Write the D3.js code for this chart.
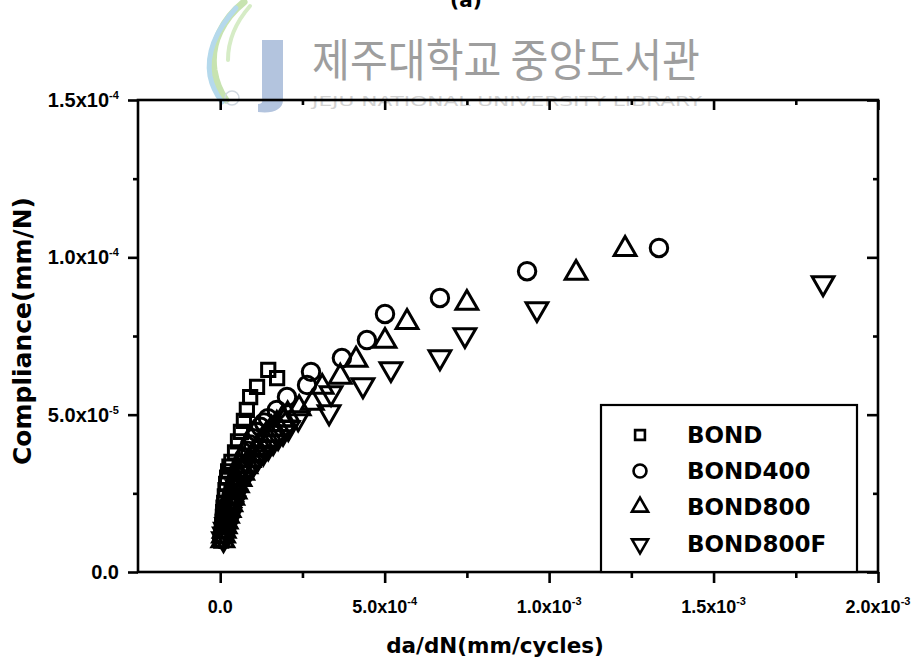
<!DOCTYPE html>
<html>
<head>
<meta charset="utf-8">
<script src="https://cdn.jsdelivr.net/npm/d3@7"></script>
<style>
  html, body { margin: 0; padding: 0; background: #fff; }
  svg { display: block; }
</style>
</head>
<body>
<svg id="chart" width="922" height="662"></svg>
<script>
// ---- data: crack growth rate (mm/cycle) vs compliance (mm/N) ----
const seriesNames = ["BOND", "BOND400", "BOND800", "BOND800F"];

const bondX = [0.003e-3, 0.004e-3, 0.005e-3, 0.006e-3, 0.007e-3, 0.008e-3, 0.009e-3, 0.010e-3, 0.012e-3, 0.014e-3,
               0.016e-3, 0.018e-3, 0.021e-3, 0.024e-3, 0.028e-3, 0.034e-3, 0.045e-3, 0.054e-3, 0.063e-3, 0.072e-3,
               0.081e-3, 0.091e-3, 0.112e-3, 0.146e-3, 0.173e-3];
const bondY = [1.00e-5, 1.15e-5, 1.30e-5, 1.45e-5, 1.60e-5, 1.75e-5, 1.90e-5, 2.05e-5, 2.20e-5, 2.40e-5,
               2.60e-5, 2.80e-5, 3.00e-5, 3.20e-5, 3.35e-5, 3.50e-5, 3.80e-5, 4.15e-5, 4.45e-5, 4.80e-5,
               5.15e-5, 5.56e-5, 5.88e-5, 6.42e-5, 6.16e-5];

const bond400X = [0.006e-3, 0.008e-3, 0.010e-3, 0.012e-3, 0.015e-3, 0.018e-3, 0.021e-3, 0.025e-3, 0.030e-3, 0.035e-3,
                  0.040e-3, 0.046e-3, 0.052e-3, 0.058e-3, 0.065e-3, 0.073e-3, 0.082e-3, 0.091e-3, 0.100e-3, 0.111e-3,
                  0.122e-3, 0.133e-3, 0.145e-3, 0.172e-3, 0.203e-3, 0.264e-3, 0.276e-3, 0.370e-3, 0.446e-3, 0.501e-3,
                  0.668e-3, 0.933e-3, 1.334e-3];
const bond400Y = [1.05e-5, 1.20e-5, 1.35e-5, 1.50e-5, 1.65e-5, 1.80e-5, 1.95e-5, 2.10e-5, 2.28e-5, 2.46e-5,
                  2.65e-5, 2.85e-5, 3.05e-5, 3.25e-5, 3.45e-5, 3.65e-5, 3.85e-5, 4.05e-5, 4.25e-5, 4.45e-5,
                  4.62e-5, 4.75e-5, 4.89e-5, 5.15e-5, 5.56e-5, 5.94e-5, 6.36e-5, 6.80e-5, 7.37e-5, 8.20e-5,
                  8.71e-5, 9.56e-5, 10.30e-5];

const bond800X = [0.008e-3, 0.010e-3, 0.012e-3, 0.015e-3, 0.018e-3, 0.022e-3, 0.027e-3, 0.032e-3, 0.038e-3, 0.045e-3,
                  0.052e-3, 0.060e-3, 0.068e-3, 0.078e-3, 0.088e-3, 0.100e-3, 0.112e-3, 0.126e-3, 0.140e-3, 0.156e-3,
                  0.172e-3, 0.188e-3, 0.205e-3, 0.240e-3, 0.280e-3, 0.310e-3, 0.365e-3, 0.413e-3, 0.501e-3, 0.568e-3,
                  0.750e-3, 1.082e-3, 1.231e-3];
const bond800Y = [1.00e-5, 1.15e-5, 1.30e-5, 1.45e-5, 1.60e-5, 1.78e-5, 1.96e-5, 2.15e-5, 2.35e-5, 2.55e-5,
                  2.75e-5, 2.95e-5, 3.15e-5, 3.35e-5, 3.55e-5, 3.75e-5, 3.95e-5, 4.15e-5, 4.35e-5, 4.55e-5,
                  4.70e-5, 4.85e-5, 5.00e-5, 5.20e-5, 5.37e-5, 5.88e-5, 6.20e-5, 6.74e-5, 7.34e-5, 7.94e-5,
                  8.55e-5, 9.50e-5, 10.26e-5];

const bond800fX = [0.010e-3, 0.013e-3, 0.016e-3, 0.020e-3, 0.024e-3, 0.029e-3, 0.035e-3, 0.041e-3, 0.046e-3, 0.052e-3,
                   0.061e-3, 0.070e-3, 0.080e-3, 0.091e-3, 0.103e-3, 0.116e-3, 0.131e-3, 0.146e-3, 0.161e-3, 0.176e-3,
                   0.191e-3, 0.207e-3, 0.237e-3, 0.331e-3, 0.337e-3, 0.434e-3, 0.519e-3, 0.668e-3, 0.744e-3, 0.963e-3,
                   1.833e-3];
const bond800fY = [1.05e-5, 1.20e-5, 1.35e-5, 1.50e-5, 1.66e-5, 1.82e-5, 2.00e-5, 2.18e-5, 2.40e-5, 2.70e-5,
                   2.85e-5, 2.99e-5, 3.15e-5, 3.30e-5, 3.48e-5, 3.65e-5, 3.80e-5, 3.97e-5, 4.13e-5, 4.29e-5,
                   4.43e-5, 4.58e-5, 4.89e-5, 5.08e-5, 5.69e-5, 5.94e-5, 6.45e-5, 6.83e-5, 7.53e-5, 8.36e-5,
                   9.18e-5];

// axis ticks and their labels (mantissa + power of ten)
const xTickValues = [0, 5e-4, 1e-3, 1.5e-3, 2e-3];
const xTickMantissa = ["0.0", "5.0x10", "1.0x10", "1.5x10", "2.0x10"];
const xTickExponent = ["", "-4", "-3", "-3", "-3"];
const xMinorValues = [2.5e-4, 7.5e-4, 1.25e-3, 1.75e-3];

const yTickValues = [0, 5e-5, 1e-4, 1.5e-4];
const yTickMantissa = ["0.0", "5.0x10", "1.0x10", "1.5x10"];
const yTickExponent = ["", "-5", "-4", "-4"];
const yMinorValues = [2.5e-5, 7.5e-5, 1.25e-4];

const xTitle = "da/dN(mm/cycles)";
const yTitle = "Compliance(mm/N)";

// ---- layout ----
const svg = d3.select("#chart");
const plot = { left: 138, right: 878, top: 100, bottom: 572 };

const x = d3.scaleLinear().domain([-2.5e-4, 2e-3]).range([plot.left, plot.right]);
const y = d3.scaleLinear().domain([0, 1.5e-4]).range([plot.bottom, plot.top]);

const tickFont = "'Liberation Sans', Arial, sans-serif";
const titleFont = "'DejaVu Sans', sans-serif";

// ---- library watermark behind the chart ----
const wm = svg.append("g").attr("class", "watermark");
wm.append("path")
  .attr("d", "M244,2 C224,18 210,42 214,70 C216,82 220,92 226,100")
  .attr("fill", "none").attr("stroke", "#c7e3b0").attr("stroke-width", 7).attr("stroke-linecap", "round");
wm.append("path")
  .attr("d", "M236,8 C218,28 206,52 210,76 C212,86 216,94 222,102")
  .attr("fill", "none").attr("stroke", "#b5d9ec").attr("stroke-width", 5).attr("stroke-linecap", "round");
wm.append("path")
  .attr("d", "M250,6 C236,22 228,40 228,60")
  .attr("fill", "none").attr("stroke", "#d6ecc6").attr("stroke-width", 4).attr("stroke-linecap", "round");
wm.append("path")
  .attr("d", "M262,40 L283,40 L283,100 C283,110 272,114 258,112 L258,104 C264,104 262,100 262,96 Z")
  .attr("fill", "#b3c4de");
wm.append("circle").attr("cx", 232).attr("cy", 98).attr("r", 7)
  .attr("fill", "none").attr("stroke", "#d0d8e0").attr("stroke-width", 1.5);

wm.append("text")
  .attr("x", 312).attr("y", 77)
  .attr("font-family", "'Noto Sans CJK KR', sans-serif")
  .attr("font-size", 45)
  .attr("textLength", 388).attr("lengthAdjust", "spacingAndGlyphs")
  .attr("fill", "#9e9e9e")
  .text("제주대학교 중앙도서관");
wm.append("text")
  .attr("x", 312).attr("y", 106)
  .attr("font-family", "'DejaVu Sans', sans-serif")
  .attr("font-size", 14)
  .attr("textLength", 390).attr("lengthAdjust", "spacingAndGlyphs")
  .attr("fill", "#d2d2d2")
  .text("JEJU NATIONAL UNIVERSITY LIBRARY");

// panel label, partly above the page edge
svg.append("text")
  .attr("x", 466).attr("y", 7)
  .attr("text-anchor", "middle")
  .attr("font-family", titleFont).attr("font-weight", "bold").attr("font-size", 20)
  .text("(a)");

// ---- frame and ticks ----
const axisStroke = 2.6;
const styleAxis = g => {
  g.select(".domain").remove();
  g.selectAll(".tick line").attr("stroke", "#000").attr("stroke-width", axisStroke);
  g.selectAll(".tick text").remove();
};

// bottom: outward major + minor ticks
svg.append("g").attr("transform", `translate(0,${plot.bottom})`)
  .call(d3.axisBottom(x).tickValues(xTickValues).tickSize(11)).call(styleAxis);
svg.append("g").attr("transform", `translate(0,${plot.bottom})`)
  .call(d3.axisBottom(x).tickValues(xMinorValues).tickSize(6)).call(styleAxis);
// top: inward ticks
svg.append("g").attr("transform", `translate(0,${plot.top})`)
  .call(d3.axisTop(x).tickValues(xTickValues).tickSize(-10)).call(styleAxis);
svg.append("g").attr("transform", `translate(0,${plot.top})`)
  .call(d3.axisTop(x).tickValues(xMinorValues).tickSize(-5)).call(styleAxis);
// left: outward ticks
svg.append("g").attr("transform", `translate(${plot.left},0)`)
  .call(d3.axisLeft(y).tickValues(yTickValues).tickSize(10)).call(styleAxis);
svg.append("g").attr("transform", `translate(${plot.left},0)`)
  .call(d3.axisLeft(y).tickValues(yMinorValues).tickSize(5)).call(styleAxis);
// right: inward ticks
svg.append("g").attr("transform", `translate(${plot.right},0)`)
  .call(d3.axisRight(y).tickValues(yTickValues).tickSize(-11)).call(styleAxis);
svg.append("g").attr("transform", `translate(${plot.right},0)`)
  .call(d3.axisRight(y).tickValues(yMinorValues).tickSize(-5)).call(styleAxis);

svg.append("rect")
  .attr("x", plot.left).attr("y", plot.top)
  .attr("width", plot.right - plot.left).attr("height", plot.bottom - plot.top)
  .attr("fill", "none").attr("stroke", "#000").attr("stroke-width", axisStroke);

// tick labels with superscript exponents
xTickValues.forEach((v, i) => {
  const t = svg.append("text")
    .attr("x", x(v)).attr("y", plot.bottom + 41)
    .attr("text-anchor", "middle")
    .attr("font-family", tickFont).attr("font-weight", "bold").attr("font-size", 18);
  t.append("tspan").text(xTickMantissa[i]);
  if (xTickExponent[i]) {
    t.append("tspan").attr("font-size", 11).attr("dy", -8).text(xTickExponent[i]);
  }
});

yTickValues.forEach((v, i) => {
  svg.append("text")
    .attr("x", i === 0 ? 119 : 109).attr("y", y(v) + 7)
    .attr("text-anchor", "end")
    .attr("font-family", tickFont).attr("font-weight", "bold").attr("font-size", 20)
    .text(yTickMantissa[i]);
  if (yTickExponent[i]) {
    svg.append("text")
      .attr("x", 109).attr("y", y(v) - 1)
      .attr("font-family", tickFont).attr("font-weight", "bold").attr("font-size", 11)
      .text(yTickExponent[i]);
  }
});

// axis titles
svg.append("text")
  .attr("x", 495).attr("y", 653)
  .attr("text-anchor", "middle")
  .attr("font-family", titleFont).attr("font-weight", "bold").attr("font-size", 21.5)
  .text(xTitle);

svg.append("text")
  .attr("transform", `translate(31,${331}) rotate(-90)`)
  .attr("text-anchor", "middle")
  .attr("font-family", titleFont).attr("font-weight", "bold").attr("font-size", 25)
  .text(yTitle);

// ---- markers ----
const markerDefs = [
  { name: seriesNames[0], xs: bondX,     ys: bondY,     type: d3.symbolSquare,   size: 175, rot: 0 },
  { name: seriesNames[1], xs: bond400X,  ys: bond400Y,  type: d3.symbolCircle,   size: 240, rot: 0 },
  { name: seriesNames[2], xs: bond800X,  ys: bond800Y,  type: d3.symbolTriangle, size: 205, rot: 0 },
  { name: seriesNames[3], xs: bond800fX, ys: bond800fY, type: d3.symbolTriangle, size: 205, rot: 180 }
];

const pts = svg.append("g").attr("class", "points");
markerDefs.forEach(s => {
  const path = d3.symbol().type(s.type).size(s.size)();
  pts.append("g").selectAll("path")
    .data(s.xs.map((v, i) => [v, s.ys[i]]))
    .join("path")
    .attr("d", path)
    .attr("transform", d => `translate(${x(d[0])},${y(d[1])}) rotate(${s.rot})`)
    .attr("fill", "none")
    .attr("stroke", "#000")
    .attr("stroke-width", 3);
});

// ---- legend ----
const legend = svg.append("g");
legend.append("rect")
  .attr("x", 601).attr("y", 405).attr("width", 256).attr("height", plot.bottom - 405)
  .attr("fill", "#fff").attr("stroke", "#000").attr("stroke-width", 2.2);

const legendRowY = [435, 471, 507, 544];
markerDefs.forEach((s, i) => {
  legend.append("path")
    .attr("d", d3.symbol().type(s.type).size(s.size * 0.55)())
    .attr("transform", `translate(640,${legendRowY[i]}) rotate(${s.rot})`)
    .attr("fill", "none").attr("stroke", "#000").attr("stroke-width", 2.6);
  legend.append("text")
    .attr("x", 687).attr("y", legendRowY[i] + 8)
    .attr("font-family", titleFont).attr("font-weight", "bold").attr("font-size", 23)
    .text(s.name);
});
</script>
</body>
</html>
